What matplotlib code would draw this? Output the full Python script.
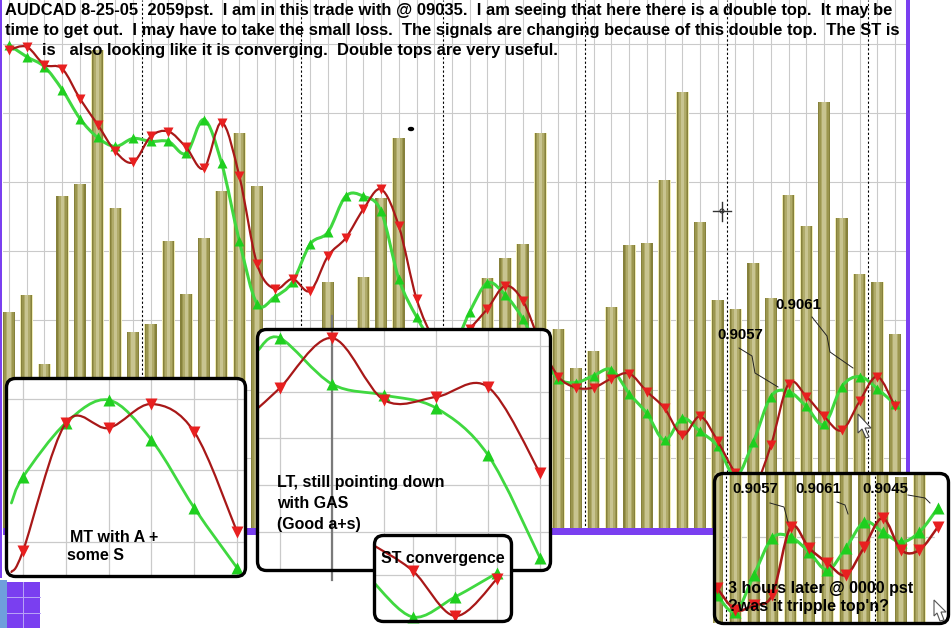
import numpy as np
import matplotlib
matplotlib.use("Agg")
import matplotlib.pyplot as plt
from matplotlib.path import Path
from matplotlib.patches import PathPatch, FancyBboxPatch, Rectangle, Polygon, Ellipse
from matplotlib.lines import Line2D
from matplotlib.transforms import Affine2D

plt.rcParams['font.family'] = ['Liberation Sans', 'DejaVu Sans']

W, H = 953, 628

# ---------------- data ----------------
# main chart: volume bars and the two signal lines (arbitrary units)
volume = [219, 236, 167, 335, 347, 482, 323, 199, 207, 290,
          237, 293, 340, 398, 345, 170, 150, 180, 249, 190,
          254, 333, 393, 160, 140, 120, 180, 253, 273, 287,
          398, 202, 163, 180, 224, 286, 288, 351, 440, 309,
          231, 222, 268, 233, 336, 305, 430, 313, 257, 249, 197]
green_line = [487, 475, 465, 442, 413, 394, 385, 393, 390, 390,
              378, 412, 368, 290, 227, 234, 249, 287, 299, 335,
              335, 320, 252, 214, 187, 182, 219, 248, 236, 212,
              177, 152, 148, 155, 161, 137, 117, 90, 112, 99,
              84, 54, 88, 134, 139, 124, 106, 144, 154, 142, 126]
red_line = [482, 485, 467, 463, 433, 407, 380, 369, 395, 400,
            384, 363, 409, 355, 267, 242, 252, 240, 275, 293,
            322, 342, 305, 232, 192, 182, 202, 222, 245, 230,
            187, 154, 143, 143, 152, 157, 139, 122, 95, 114,
            89, 57, 42, 85, 147, 134, 114, 100, 129, 154, 124]
day_breaks = [7.5, 16.5, 24.5, 32.5, 40.5, 48.5]
grid_levels = [72, 141, 211, 280, 349, 419, 488]

# MT inset
mt_x = [-0.27, 0, 1, 2, 3, 4, 5]
mt_green = [73, 99, 153, 176, 136, 68, 8]
mt_red = [4, 25, 153, 148, 172, 144, 44]
# LT inset
lt_x = [-0.42, 0, 1, 2, 3, 4, 5]
lt_green = [220, 232, 186, 175, 162, 115, 12]
lt_red = [162, 182, 232, 170, 173, 183, 97]
# ST inset
st_x = [-0.95, 0, 1, 2]
st_green = [39, 4, 24, 48]
st_red = [76, 50, 5, 42]
# "3 hours later" inset
rb_bars = [150, 150, 150, 150, 150, 150, 150, 150, 150, 148, 146, 150]
rb_green = [28, 11, 48, 85, 86, 71, 53, 75, 101, 91, 81, 91, 115]
rb_red = [35, 13, 18, 28, 96, 75, 60, 48, 76, 105, 73, 73, 96]

title_lines = [
    "AUDCAD 8-25-05  2059pst.  I am in this trade with @ 09035.  I am seeing that here there is a double top.  It may be",
    "time to get out.  I may have to take the small loss.  The signals are changing because of this double top.  The ST is",
    "is   also looking like it is converging.  Double tops are very useful.",
]

# ---------------- styles ----------------
GREEN_L, GREEN_M = '#40d840', '#1fcf1f'
RED_L, RED_M = '#a81818', '#e82020'
PURPLE = '#7a3ff0'
GRID = '#cacaca'

fig = plt.figure(figsize=(W / 100, H / 100), dpi=100)
fig.patch.set_facecolor('white')
pxT = Affine2D().scale(1 / W, -1 / H).translate(0, 1) + fig.transFigure


def rect(x0, y0, x1, y1):
    return [x0 / W, 1 - y1 / H, (x1 - x0) / W, (y1 - y0) / H]


def smooth(ax, x, y, color, lw, z):
    pts = np.column_stack([x, y]).astype(float)
    n = len(pts)
    verts = [pts[0]]
    codes = [Path.MOVETO]
    for i in range(n - 1):
        p0 = pts[max(i - 1, 0)]
        p1 = pts[i]
        p2 = pts[i + 1]
        p3 = pts[min(i + 2, n - 1)]
        verts += [p1 + (p2 - p0) / 6, p2 - (p3 - p1) / 6, p2]
        codes += [Path.CURVE4] * 3
    ax.add_patch(PathPatch(Path(verts, codes), fill=False, edgecolor=color,
                           lw=lw, zorder=z, capstyle='round', joinstyle='round'))


def shaded_bars(ax, x, h, width, z=2):
    layers = [(1.0, '#f1edb6'), (0.9, '#86813c'), (0.72, '#9b964f'),
              (0.5, '#b0ab6a'), (0.26, '#c8c490')]
    for frac, c in layers:
        ax.bar(x, h, width * frac, bottom=0, color=c, linewidth=0, zorder=z)


def signal(ax, x, g, r, lw_g, lw_r, ms, mark_from=0):
    smooth(ax, x, g, GREEN_L, lw_g, 5)
    ax.plot(x[mark_from:], g[mark_from:], ls='none', marker='^', ms=ms,
            color=GREEN_M, mec='none', zorder=6)
    smooth(ax, x, r, RED_L, lw_r, 7)
    ax.plot(x[mark_from:], r[mark_from:], ls='none', marker='v', ms=ms,
            color=RED_M, mec='none', zorder=8)


# ---------------- main chart ----------------
idx = np.arange(len(volume))
ax = fig.add_axes(rect(3, 0, 907, 530))
ax.set_xlim(-0.34, 50.68)
ax.set_ylim(0, 532)
ax.set_facecolor('white')
for s in ax.spines.values():
    s.set_visible(False)
ax.set_xticks(idx)
ax.set_yticks(grid_levels)
ax.tick_params(length=0, labelleft=False, labelbottom=False)
ax.grid(True, color=GRID, lw=0.8, zorder=0)
ax.set_axisbelow(True)
shaded_bars(ax, idx, volume, 0.72)
for d in day_breaks:
    ax.axvline(d, color='black', ls=(0, (2, 2)), lw=0.8, zorder=3)
signal(ax, idx, green_line, red_line, 2.2, 1.6, 6.5)

# ---------------- overlay (decorations) ----------------
ao = fig.add_axes([0, 0, 1, 1])
ao.set_xlim(0, W)
ao.set_ylim(H, 0)
ao.axis('off')
ao.add_patch(Rectangle((906, 0), 4, 536, color=PURPLE, lw=0))
ao.add_patch(Rectangle((3, 528), 907, 7, color=PURPLE, lw=0))
ao.add_patch(Rectangle((0, 0), 2, 578, color=PURPLE, lw=0))
ao.add_patch(Rectangle((7, 582), 33, 46, color=PURPLE, lw=0))
ao.add_patch(Rectangle((0, 580), 7, 48, color='#6f9fdc', lw=0))
for yy in (597, 613):
    ao.plot([7, 40], [yy, yy], color='#b9a6f7', lw=0.7)
ao.plot([23, 23], [582, 628], color='#b9a6f7', lw=0.7)
# crosshair cursor and dot
ao.plot([713, 731], [211, 211], color='#333333', lw=1)
ao.plot([722, 722], [202, 221], color='#333333', lw=1)
ao.add_patch(Ellipse((722, 211), 4, 4, fill=False, ec='#333333', lw=0.8))
ao.add_patch(Ellipse((411, 129), 5, 3, color='black'))
# mouse pointer
ao.add_patch(Polygon([(858, 414), (858, 433), (862, 429), (866, 438), (869, 437),
                      (865, 428), (871, 428)], closed=True, fc='white', ec='#444444', lw=0.8, zorder=9))
# price labels on main chart
for txt, (tx, ty), leader in [
        ("0.9057", (717, 335), [(739, 348), (752, 356), (755, 373), (778, 387)]),
        ("0.9061", (775, 305), [(812, 317), (827, 336), (830, 352), (853, 368)])]:
    ao.text(tx, ty, txt, fontsize=10.8, weight='bold', va='center', ha='left', zorder=10)
    lx, ly = zip(*leader)
    ao.plot(lx, ly, color='#222222', lw=0.7, zorder=10)

# title text, fitted to the width of the reference
ts = []
for i, (line, x0) in enumerate(zip(title_lines, (5, 5, 42))):
    ts.append(ao.text(x0, 10 + 20 * i, line, fontsize=11.5, weight='bold',
                      va='center', ha='left', zorder=12))
r = fig.canvas.get_renderer()
wpx = ts[1].get_window_extent(r).width
fs = 11.5 * 900 / wpx
for t in ts:
    t.set_fontsize(fs)


# ---------------- insets ----------------
def make_inset(x0, y0, x1, y1, xlim, ylim):
    a = fig.add_axes(rect(x0, y0, x1, y1))
    a.set_xlim(*xlim)
    a.set_ylim(*ylim)
    a.axis('off')
    a.add_patch(FancyBboxPatch((x0 + 1.5, y0 + 1.5), x1 - x0 - 3, y1 - y0 - 3,
                               boxstyle='round,pad=0,rounding_size=9', transform=pxT,
                               fc='white', ec='none', zorder=0, clip_on=False))
    a.add_patch(FancyBboxPatch((x0 + 1.5, y0 + 1.5), x1 - x0 - 3, y1 - y0 - 3,
                               boxstyle='round,pad=0,rounding_size=9', transform=pxT,
                               fill=False, ec='black', lw=2.4, zorder=30, clip_on=False))
    return a


def ptext(a, x, y, s, size=11.5):
    a.text(x, y, s, transform=pxT, fontsize=size, weight='bold', va='center',
           ha='left', zorder=25, clip_on=False)


# MT
a = make_inset(5, 377, 247, 578, (-0.42, 5.23), (-2, 199))
for k in range(6):
    a.axvline(k, color=GRID, lw=0.9, zorder=1)
for v in (34, 106, 177):
    a.axhline(v, color=GRID, lw=0.9, zorder=1)
signal(a, mt_x, mt_green, mt_red, 2.0, 1.6, 8, mark_from=1)
ptext(a, 70, 537, "MT with A +")
ptext(a, 67, 556, "some S")

# LT
a = make_inset(256, 328, 552, 572, (-0.46, 5.23), (-2, 242))
for k in range(6):
    a.axvline(k, color=GRID, lw=0.9, zorder=1)
for v in (38, 85, 132, 178, 224):
    a.axhline(v, color=GRID, lw=0.9, zorder=1)
a.plot([1, 1], [254, -10], color='#7a7a7a', lw=1.6, zorder=2, clip_on=False)
signal(a, lt_x, lt_green, lt_red, 2.0, 1.6, 8, mark_from=1)
ptext(a, 277, 483, "LT, still pointing down")
ptext(a, 277, 503, "with GAS")
ptext(a, 277, 524, "(Good a+s)")

# ST
a = make_inset(373, 534, 513, 623, (-0.952, 2.38), (-2, 87))
for k in range(3):
    a.axvline(k, color=GRID, lw=0.9, zorder=1)
a.axhline(46, color=GRID, lw=0.9, zorder=1)
signal(a, st_x, st_green, st_red, 2.0, 1.6, 8, mark_from=1)
ptext(a, 381, 558, "ST convergence")

# 3 hours later
a = make_inset(713, 472, 950, 625, (-0.22, 12.66), (-2, 151))
a.axhline(86, color=GRID, lw=0.9, zorder=1)
shaded_bars(a, np.arange(len(rb_bars)), rb_bars, 0.7)
a.axvspan(11.85, 13, color='white', zorder=3)
for d in (0.5, 8.6):
    a.axvline(d, color='white', lw=1.2, zorder=4)
    a.axvline(d, color='black', ls=(0, (2, 2)), lw=0.8, zorder=4)
k13 = np.arange(len(rb_green))
signal(a, k13, rb_green, rb_red, 2.2, 1.8, 8)
for txt, tx, leader in [("0.9057", 732, [(770, 503), (784, 507), (788, 522)]),
                        ("0.9061", 795, [(837, 502), (845, 505), (848, 514)]),
                        ("0.9045", 862, [(908, 495), (925, 498), (930, 503)])]:
    ptext(a, tx, 489, txt, 10.8)
    lx, ly = zip(*leader)
    a.add_line(Line2D(lx, ly, transform=pxT, color='#222222', lw=0.7, zorder=25))
ptext(a, 728, 588, "3 hours later @ 0000 pst")
ptext(a, 728, 607, "?was it tripple top'n?")
a.add_patch(Polygon([(934, 600), (946, 612), (941, 612), (944, 620), (940, 621), (937, 613), (934, 616)],
                    closed=True, transform=pxT, fc='white', ec='#555555', lw=0.8, zorder=26, clip_on=False))

fig.savefig('out.png', dpi=100, facecolor='white')
